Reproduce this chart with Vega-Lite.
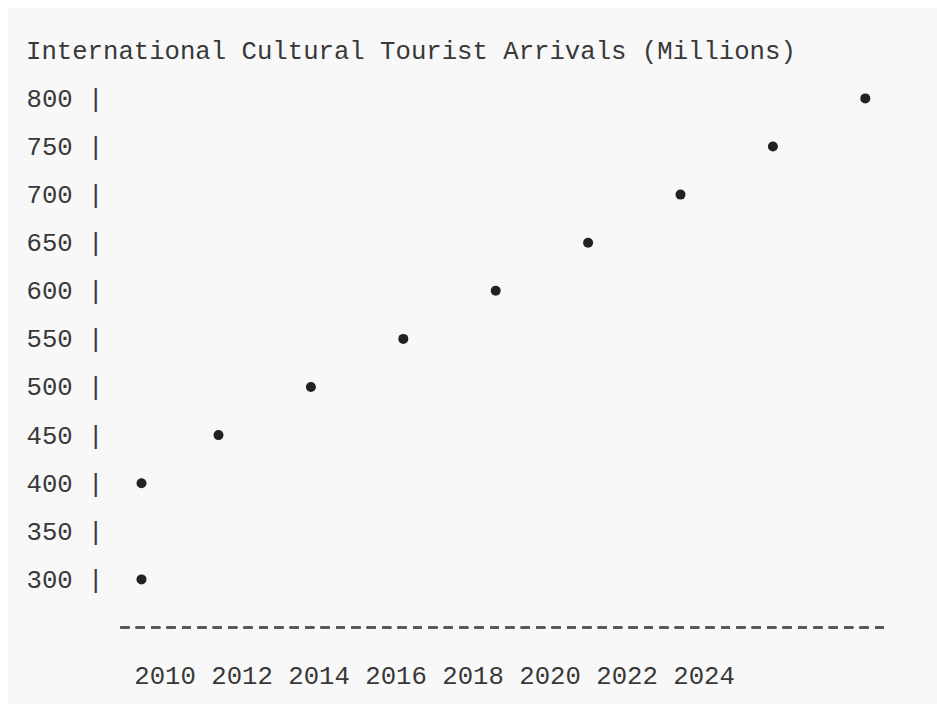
{
  "$schema": "https://vega.github.io/schema/vega-lite/v6.json",
  "width": 929,
  "height": 696,
  "autosize": {"type": "none"},
  "padding": {"left": 8, "top": 8, "right": 0, "bottom": 0},
  "background": "#ffffff",
  "title": {
    "text": "International Cultural Tourist Arrivals (Millions)",
    "anchor": "start",
    "frame": "group",
    "font": "Liberation Mono",
    "fontSize": 25.67,
    "fontWeight": "normal",
    "color": "#383838",
    "baseline": "middle",
    "offset": -69,
    "dx": 18
  },
  "config": {
    "view": {"fill": "#f8f8f8", "stroke": null},
    "axis": {
      "labelFont": "Liberation Mono",
      "labelFontSize": 25.67,
      "labelColor": "#383838",
      "grid": false,
      "ticks": false,
      "tickSize": 0,
      "domain": false,
      "title": null
    }
  },
  "data": {
    "values": [
      {"year": 2009.4, "arrivals": 300},
      {"year": 2009.4, "arrivals": 400},
      {"year": 2011.4, "arrivals": 450},
      {"year": 2013.8, "arrivals": 500},
      {"year": 2016.2, "arrivals": 550},
      {"year": 2018.6, "arrivals": 600},
      {"year": 2021.0, "arrivals": 650},
      {"year": 2023.4, "arrivals": 700},
      {"year": 2025.8, "arrivals": 750},
      {"year": 2028.2, "arrivals": 800}
    ]
  },
  "layer": [
    {
      "mark": {"type": "rule", "stroke": "#555555", "strokeWidth": 1.3, "strokeDash": [9, 6.4]},
      "encoding": {
        "x": {"datum": 2008.852, "type": "quantitative"},
        "x2": {"datum": 2028.717},
        "y": {"datum": 250, "type": "quantitative"}
      }
    },
    {
      "mark": {"type": "point", "filled": true, "color": "#222222", "size": 100, "opacity": 1},
      "encoding": {
        "x": {
          "field": "year",
          "type": "quantitative",
          "scale": {"domain": [2005.9325, 2030.0624], "nice": false, "zero": false},
          "axis": {
            "orient": "bottom",
            "values": [2010, 2012, 2014, 2016, 2018, 2020, 2022, 2024],
            "format": "d",
            "offset": -76.5,
            "labelBaseline": "middle",
            "labelPadding": 48.1,
            "labelFlush": false,
            "labelOverlap": false
          }
        },
        "y": {
          "field": "arrivals",
          "type": "quantitative",
          "scale": {"domain": [170.47, 893.97], "nice": false, "zero": false},
          "axis": {
            "orient": "left",
            "values": [300, 350, 400, 450, 500, 550, 600, 650, 700, 750, 800],
            "labelExpr": "datum.label + ' |'",
            "offset": -95,
            "labelAlign": "right",
            "labelBaseline": "middle",
            "labelPadding": 0,
            "labelFlush": false,
            "labelOverlap": false
          }
        }
      }
    }
  ]
}
